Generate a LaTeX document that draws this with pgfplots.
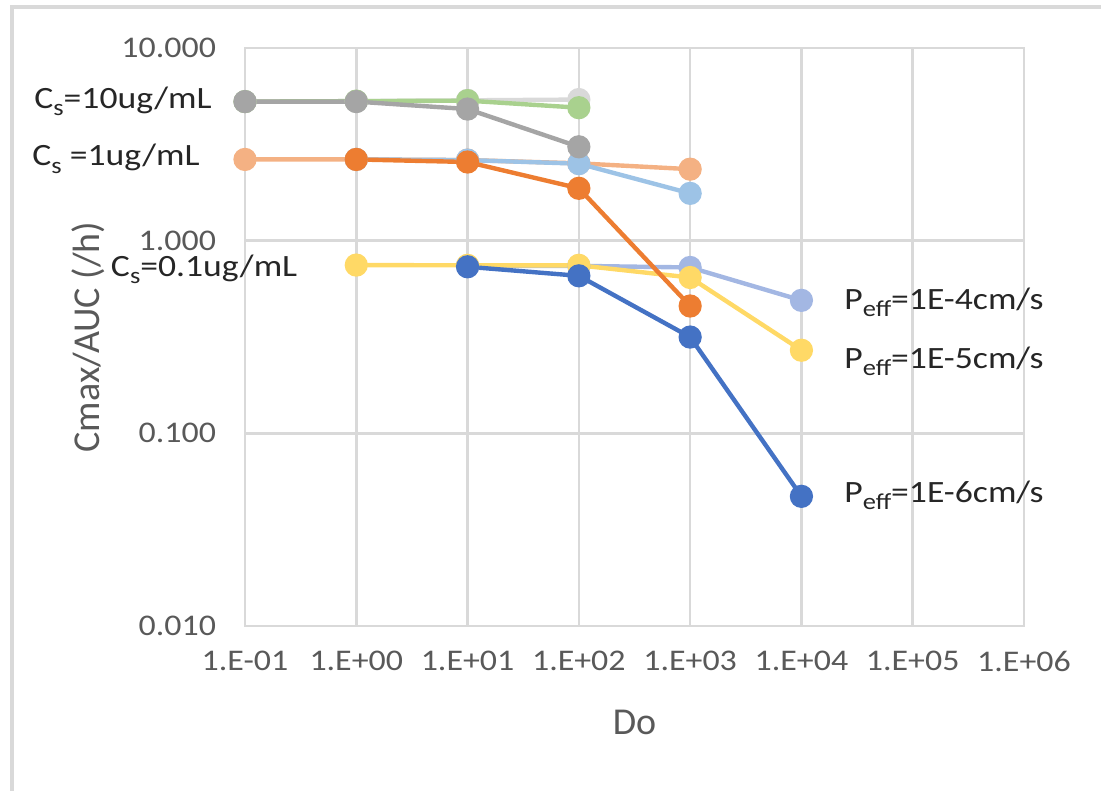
\documentclass[border=0pt]{standalone}
\usepackage{fontspec}
\setmainfont{Carlito}[FakeStretch=1.13]
\newfontfamily\titlefont{Carlito}
\newfontfamily\annfont{Carlito}[FakeStretch=1.15]
\usepackage{pgfplots}
\pgfplotsset{compat=1.18}
\definecolor{gridgray}{HTML}{D9D9D9}
\definecolor{ticktext}{HTML}{595959}
\definecolor{anntext}{HTML}{262626}
\definecolor{cDarkBlue}{HTML}{4472C4}
\definecolor{cPeri}{HTML}{A3B7E3}
\definecolor{cYellow}{HTML}{FFD966}
\definecolor{cDarkOrange}{HTML}{ED7D31}
\definecolor{cLightOrange}{HTML}{F4B183}
\definecolor{cLightBlue}{HTML}{9DC3E6}
\definecolor{cGray}{HTML}{A5A5A5}
\definecolor{cGreen}{HTML}{A9D18E}
\definecolor{cLightGray}{HTML}{D9D9D9}
\newcommand{\sub}[1]{\raisebox{-3.6pt}{\fontsize{11.5}{12}\selectfont #1}}
\begin{document}
\begin{tikzpicture}
\begin{axis}[
  scale only axis,
  width=389.5pt, height=289pt,
  xmode=log, ymode=log,
  xmin=0.1, xmax=1e6, ymin=0.01, ymax=10,
  xtick={1e-1,1,1e1,1e2,1e3,1e4,1e5,1e6},
  xticklabels={1.E-01,1.E+00,1.E+01,1.E+02,1.E+03,1.E+04,1.E+05,1.E+06},
  ytick={0.01,0.1,1,10},
  yticklabels={0.010,0.100,1.000,10.000},
  minor xtick={}, minor ytick={},
  major tick length=0pt, minor tick length=0pt,
  tick style={draw=none},
  xmajorgrids=true, ymajorgrids=true,
  xminorgrids=false, yminorgrids=false,
  grid style={draw=gridgray, line width=1.3pt},
  axis line style={draw=gridgray, line width=1.3pt},
  tick label style={font=\fontsize{15}{17}\selectfont, text=ticktext},
  /pgf/number format/assume math mode=true,
  xticklabel style={yshift=-9pt},
  yticklabel style={xshift=-11pt},
  xlabel={Do},
  ylabel={Cmax/AUC (/h)},
  label style={font=\titlefont\fontsize{19}{22}\selectfont, text=ticktext},
  xlabel style={at={(axis description cs:0.5,0)}, anchor=center, yshift=-48pt},
  ylabel style={at={(axis description cs:-0.2015,0.5)}, anchor=center},
  clip=false,
  every axis plot/.append style={line width=2.2pt, mark=*, mark size=4.7pt},
]
% Cs = 0.1 ug/mL
\addplot[color=cPeri, mark options={fill=cPeri, draw=cPeri}] coordinates {(10,0.74) (100,0.74) (1000,0.726) (10000,0.490)};
\addplot[color=cYellow, mark options={fill=cYellow, draw=cYellow}] coordinates {(1,0.747) (10,0.745) (100,0.745) (1000,0.644) (10000,0.270)};
\addplot[color=cDarkBlue, mark options={fill=cDarkBlue, draw=cDarkBlue}] coordinates {(10,0.732) (100,0.657) (1000,0.316) (10000,0.0471)};
% Cs = 1 ug/mL
\addplot[color=cLightOrange, mark options={fill=cLightOrange, draw=cLightOrange}] coordinates {(0.1,2.64) (1,2.64) (10,2.62) (100,2.52) (1000,2.35)};
\addplot[color=cLightBlue, mark options={fill=cLightBlue, draw=cLightBlue}] coordinates {(1,2.64) (10,2.62) (100,2.51) (1000,1.76)};
\addplot[color=cDarkOrange, mark options={fill=cDarkOrange, draw=cDarkOrange}] coordinates {(1,2.64) (10,2.56) (100,1.87) (1000,0.458)};
% Cs = 10 ug/mL
\addplot[color=cLightGray, mark options={fill=cLightGray, draw=cLightGray}] coordinates {(0.1,5.27) (1,5.3) (10,5.35) (100,5.4)};
\addplot[color=cGreen, mark options={fill=cGreen, draw=cGreen}] coordinates {(0.1,5.27) (1,5.3) (10,5.33) (100,4.90)};
\addplot[color=cGray, mark options={fill=cGray, draw=cGray}] coordinates {(0.1,5.27) (1,5.27) (10,4.82) (100,3.07)};
\end{axis}
% annotations
\begin{scope}[every node/.style={inner sep=0pt, text=anntext, font=\annfont\fontsize{15.5}{18}\selectfont}]
\node[anchor=base east] at (-16.5pt,258.8pt) {C\sub{s}=10ug/mL};
\node[anchor=base east] at (-22.5pt,230pt) {C\sub{s} =1ug/mL};
\node[anchor=base west] at (-67.2pt,174.7pt) {C\sub{s}=0.1ug/mL};
\node[anchor=base west] at (299.5pt,158.3pt) {P\sub{eff}=1E-4cm/s};
\node[anchor=base west] at (299.5pt,128.8pt) {P\sub{eff}=1E-5cm/s};
\node[anchor=base west] at (299.5pt,61.8pt) {P\sub{eff}=1E-6cm/s};
\end{scope}
% outer frame (partially visible)
\draw[gridgray, line width=1.6pt] (-116.5pt,-82.5pt) -- (-116.5pt,309.5pt) -- (428pt,309.5pt);
\pgfresetboundingbox
\path (-122.5pt,-82.5pt) rectangle (428pt,313pt);
\end{tikzpicture}
\end{document}
